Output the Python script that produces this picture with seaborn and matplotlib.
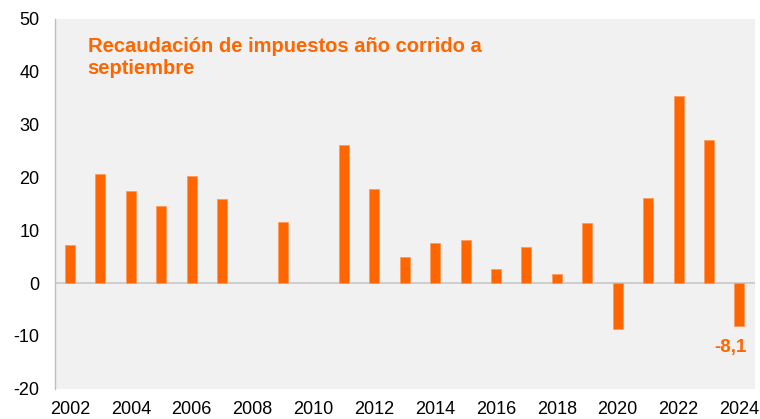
import numpy as np
import pandas as pd
import seaborn as sns
import matplotlib.pyplot as plt

# datos (variación %, año corrido a septiembre)
years = list(range(2002, 2025))
values = [7.3, 20.7, 17.5, 14.6, 20.2, 16.0, np.nan, 11.6, np.nan, 26.1, 17.9,
          5.0, 7.5, 8.1, 2.7, 6.9, 1.7, 11.3, -8.6, 16.2, 35.4, 27.0, -8.1]
title_txt = "Recaudación de impuestos año corrido a\nseptiembre"
last_label = "-8,1"

naranja = "#FF6600"

df = pd.DataFrame({"year": [str(y) for y in years], "value": values})

sns.set_style("white")
plt.rcParams['font.family'] = ['Liberation Sans', 'DejaVu Sans']
plt.rcParams['axes.unicode_minus'] = False

fig = plt.figure(figsize=(7.6, 4.19), dpi=100)
ax = fig.add_axes([0.072, 0.072, 0.921, 0.883])
ax.set_facecolor("#f1f1f1")

sns.barplot(data=df, x="year", y="value", order=[str(y) for y in years],
            color=naranja, saturation=1, width=0.33, ax=ax,
            edgecolor="#ff9a5c", linewidth=0.6)

ax.set_ylim(-20, 50)
ax.set_xlim(-0.5, len(years) - 0.5)
ax.set_yticks(range(-20, 51, 10))
ax.set_xticks(range(len(years)))
ax.set_xticklabels([str(y) if i % 2 == 0 else "" for i, y in enumerate(years)])
ax.tick_params(axis="both", length=0, labelsize=13, colors="#000000")
ax.tick_params(axis="x", pad=9)
ax.tick_params(axis="y", pad=11)
ax.set_xlabel("")
ax.set_ylabel("")

for s in ["top", "right", "bottom"]:
    ax.spines[s].set_visible(False)
ax.spines["left"].set_color("#bfbfbf")
ax.spines["left"].set_linewidth(1)
ax.axhline(0, color="#c8c8c8", linewidth=1.2, zorder=0.5)

ax.text(0.047, 0.95, title_txt, transform=ax.transAxes, color=naranja,
        fontsize=14.5, fontweight="bold", va="top", ha="left", linespacing=1.15)
ax.annotate(last_label, xy=(len(years) - 1, -12.1), xytext=(-6.5, 0),
            textcoords="offset points", color=naranja, fontsize=13.5,
            fontweight="bold", ha="center", va="center")

fig.savefig("out.png", dpi=100)
